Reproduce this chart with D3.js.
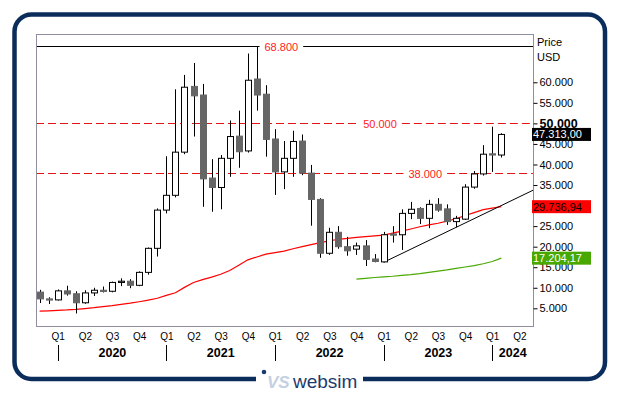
<!DOCTYPE html>
<html>
<head>
<meta charset="utf-8">
<script src="https://cdn.jsdelivr.net/npm/d3@7"></script>
<style>
  body { margin: 0; background: #fff; }
  svg { display: block; font-family: "Liberation Sans", Arial, sans-serif; }
</style>
</head>
<body>
<div class="chart"></div>
<script>
// monthly candles, Nov 2019 .. Feb 2024 (USD)
var firstMonth = new Date(2019, 10, 1);
var open  = [8950, 7300, 7050, 9250, 8550, 6350, 8750, 9400, 9150, 11300, 11600, 10600, 13750, 19600, 28900, 32500, 43000, 59000, 56900, 36700, 34400, 41500, 46900, 43300, 60800, 57100, 46200, 38200, 41500, 45700, 37900, 31500, 18400, 23500, 20000, 19400, 20200, 17000, 16300, 23100, 22900, 28100, 29300, 26900, 30300, 29200, 26100, 26700, 34500, 37700, 42600, 42300];
var high  = [9500, 7700, 9600, 10500, 9150, 9400, 10000, 10300, 11500, 12300, 12100, 14000, 19800, 29300, 42000, 58300, 61800, 64700, 59600, 41300, 42300, 50700, 53100, 67000, 68800, 59300, 48600, 45700, 48200, 47300, 39900, 31800, 24600, 25000, 22400, 21000, 21600, 18200, 23600, 25000, 29100, 30900, 29600, 31400, 31800, 30300, 27500, 35200, 38400, 44700, 49200, 47600];
var low   = [6300, 6050, 6900, 8100, 3750, 6100, 8000, 8850, 8900, 10400, 9900, 10400, 13200, 17600, 28100, 32000, 42500, 46800, 29700, 28500, 29100, 37000, 39200, 42900, 53100, 41900, 32600, 34000, 37000, 37400, 25100, 17300, 18000, 19500, 17800, 18000, 15300, 16200, 16200, 21000, 19200, 26700, 25500, 24500, 28500, 25300, 24700, 26500, 34100, 37300, 38200, 41700];
var close = [7300, 7050, 9250, 8500, 6350, 8750, 9400, 9150, 11300, 11600, 10600, 13750, 19600, 28900, 32500, 43000, 58800, 56700, 36500, 34400, 41500, 46800, 43100, 60500, 56900, 46100, 38200, 41500, 45600, 37900, 31500, 18400, 23500, 20000, 19000, 20200, 16900, 16400, 22900, 22800, 28100, 29100, 26900, 30300, 28900, 26100, 26900, 34500, 37700, 42500, 42300, 47313];

// moving averages
var maRed = [4300, 4400, 4500, 4600, 4750, 4950, 5150, 5400, 5650, 5950, 6250, 6600, 7000, 7450, 8150, 8800, 10100, 11300, 12000, 12600, 13300, 14200, 15500, 16800, 17500, 18200, 18550, 18900, 19500, 20000, 20500, 21000, 21400, 21800, 22000, 22250, 22450, 22650, 22800, 23300, 23800, 24300, 24850, 25300, 25700, 26200, 26800, 27600, 28300, 29000, 29400, 29736.94];
var maGreenStart = 35;
var maGreen = [12100, 12300, 12500, 12650, 12800, 13000, 13200, 13450, 13750, 14050, 14350, 14700, 15050, 15400, 15850, 16400, 17204.17];

// horizontal levels and trend line anchors (month index, price)
var levels = [68800, 50000, 38000];
var trendIdx = [38, 46];
var trendVal = [16200, 24700];

var yTicks = [5000, 10000, 15000, 20000, 25000, 30000, 35000, 40000, 45000, 50000, 55000, 60000];
var years = [2020, 2021, 2022, 2023, 2024];
var quarterNames = ['Q1', 'Q2', 'Q3', 'Q4'];

var W = 620, H = 393;
var plot = { left: 36, right: 533, top: 34, bottom: 326 };
var levelLabelAt = [26.7, 37.6, 42.6];

var de = d3.formatLocale({ decimal: ',', thousands: '.', grouping: [3], currency: ['', ''] });
var fmtTick = de.format(',.0f');
var fmtVal = de.format(',.2f');

var candles = close.map(function (c, i) {
  return { i: i, o: open[i], h: high[i], l: low[i], c: c };
});

var svg = d3.select('.chart')
  .append('svg')
    .attr('width', W)
    .attr('height', H);

var x = d3.scaleLinear()
  .domain([-0.4, 54.5])
  .range([plot.left, plot.right]);

var y = d3.scaleLinear()
  .domain([700, 71750])
  .range([plot.bottom, plot.top]);

// outer rounded border with gap for the logo
var bx0 = 14.5, bx1 = 605, by0 = 14.5, by1 = 379, r = 17;
var p = d3.path();
p.moveTo(256, by1);
p.lineTo(bx0 + r, by1);
p.arcTo(bx0, by1, bx0, by1 - r, r);
p.lineTo(bx0, by0 + r);
p.arcTo(bx0, by0, bx0 + r, by0, r);
p.lineTo(bx1 - r, by0);
p.arcTo(bx1, by0, bx1, by0 + r, r);
p.lineTo(bx1, by1 - r);
p.arcTo(bx1, by1, bx1 - r, by1, r);
p.lineTo(363, by1);
svg.append('path')
  .attr('d', p.toString())
  .attr('fill', 'none')
  .attr('stroke', '#0b2d5c')
  .attr('stroke-width', 4.5);

// logo
svg.append('circle').attr('cx', 264).attr('cy', 372).attr('r', 2.3).attr('fill', '#1b3b6e');
svg.append('text')
  .attr('x', 267).attr('y', 388)
  .attr('font-size', 17).attr('font-weight', 'bold').attr('font-style', 'italic')
  .attr('fill', '#c3d1e2')
  .text('VS');
svg.append('text')
  .attr('x', 293).attr('y', 388)
  .attr('font-size', 19)
  .attr('fill', '#1b3b6e')
  .text('websim');

// plot frame
svg.append('rect')
  .attr('x', plot.left + 0.5).attr('y', plot.top + 0.5)
  .attr('width', plot.right - plot.left).attr('height', plot.bottom - plot.top)
  .attr('fill', 'none')
  .attr('stroke', '#8e8ea0');

svg.append('clipPath').attr('id', 'clip')
  .append('rect')
    .attr('x', plot.left + 1).attr('y', plot.top + 1)
    .attr('width', plot.right - plot.left - 1).attr('height', plot.bottom - plot.top - 1);

var g = svg.append('g').attr('clip-path', 'url(#clip)');

// horizontal levels with labels
levels.forEach(function (v, k) {
  var yy = Math.round(y(v)) + 0.5;
  var solid = k === 0;
  var color = solid ? '#000' : '#e41414';
  var t = svg.append('text')
    .attr('x', x(levelLabelAt[k]))
    .attr('y', yy + 4)
    .attr('text-anchor', 'middle')
    .attr('font-size', 11)
    .attr('fill', '#ff2222')
    .text(fmtTick(v));
  var half = t.node().getComputedTextLength() / 2 + 5;
  var cx = x(levelLabelAt[k]);
  [[plot.left, cx - half], [cx + half, plot.right]].forEach(function (seg) {
    g.append('line')
      .attr('x1', seg[0]).attr('x2', seg[1])
      .attr('y1', yy).attr('y2', yy)
      .attr('stroke', color)
      .attr('stroke-width', 1)
      .attr('stroke-dasharray', solid ? null : '8,4');
  });
});

// red MA
g.append('path')
  .datum(maRed)
  .attr('fill', 'none')
  .attr('stroke', '#ff0000')
  .attr('stroke-width', 1.2)
  .attr('d', d3.line().x(function (d, i) { return x(i); }).y(function (d) { return y(d); }));

// green MA
g.append('path')
  .datum(maGreen)
  .attr('fill', 'none')
  .attr('stroke', '#4aa800')
  .attr('stroke-width', 1.2)
  .attr('d', d3.line().x(function (d, i) { return x(i + maGreenStart); }).y(function (d) { return y(d); }));

// trend line, extended to the right edge
var trend = d3.scaleLinear().domain(trendIdx).range(trendVal);
g.append('line')
  .attr('x1', x(trendIdx[0])).attr('y1', y(trend(trendIdx[0])))
  .attr('x2', x(x.domain()[1])).attr('y2', y(trend(x.domain()[1])))
  .attr('stroke', '#000')
  .attr('stroke-width', 1);

// candles
var cg = g.selectAll('g.candle')
  .data(candles)
  .enter()
  .append('g')
    .attr('class', 'candle');

cg.append('line')
  .attr('x1', function (d) { return Math.round(x(d.i)) + 0.5; })
  .attr('x2', function (d) { return Math.round(x(d.i)) + 0.5; })
  .attr('y1', function (d) { return y(d.h); })
  .attr('y2', function (d) { return y(d.l); })
  .attr('stroke', '#000')
  .attr('stroke-width', 1);

cg.append('rect')
  .attr('x', function (d) { return Math.round(x(d.i)) - 2.5; })
  .attr('width', 6)
  .attr('y', function (d) { return y(Math.max(d.o, d.c)); })
  .attr('height', function (d) { return Math.max(1.2, Math.abs(y(d.o) - y(d.c))); })
  .attr('fill', function (d) { return d.c >= d.o ? '#fff' : '#666'; })
  .attr('stroke', function (d) { return d.c >= d.o ? '#000' : '#666'; })
  .attr('stroke-width', 1);

// x axis: quarters
var quarterIdx = d3.range(2, 54, 3);
var xAxis = d3.axisBottom(x)
  .tickValues(quarterIdx)
  .tickSize(0)
  .tickPadding(0)
  .tickFormat(function (i) {
    var m = d3.timeMonth.offset(firstMonth, i).getMonth();
    return quarterNames[Math.floor(m / 3)];
  });

var xa = svg.append('g')
  .attr('transform', 'translate(0,' + (plot.bottom + 7) + ')')
  .call(xAxis);
xa.select('.domain').remove();
xa.selectAll('text')
  .attr('font-size', 10)
  .attr('font-family', '"Liberation Sans", Arial, sans-serif')
  .attr('fill', '#000');

// years
years.forEach(function (yr, k) {
  var i0 = (yr - 2020) * 12 + 2;
  var x0 = Math.round(x(i0)) + 0.5;
  var x1 = k < years.length - 1 ? x(i0 + 12) : plot.right;
  svg.append('line')
    .attr('x1', x0).attr('x2', x0)
    .attr('y1', 345).attr('y2', 361)
    .attr('stroke', '#000');
  svg.append('text')
    .attr('x', (x0 + x1) / 2)
    .attr('y', 357)
    .attr('text-anchor', 'middle')
    .attr('font-size', 12.5)
    .attr('font-weight', 'bold')
    .text(yr);
});

// y axis on the right
var yAxis = d3.axisRight(y)
  .tickValues(yTicks)
  .tickSize(4)
  .tickPadding(2)
  .tickFormat(fmtTick);

var ya = svg.append('g')
  .attr('transform', 'translate(' + (plot.right + 0.5) + ',0)')
  .call(yAxis);
ya.select('.domain').remove();
ya.selectAll('line').attr('stroke', '#000');
ya.selectAll('text')
  .attr('font-size', 11)
  .attr('font-family', '"Liberation Sans", Arial, sans-serif')
  .attr('fill', '#000')
  .filter(function (d) { return d === 50000; })
    .attr('font-size', 12.5)
    .attr('font-weight', 'bold');

svg.append('text').attr('x', 537).attr('y', 45.5).attr('font-size', 11).text('Price');
svg.append('text').attr('x', 537).attr('y', 60.5).attr('font-size', 11).text('USD');

// last value boxes
var tags = [
  { v: close[close.length - 1], bg: '#000', fg: '#fff' },
  { v: maRed[maRed.length - 1], bg: '#ff0000', fg: '#000' },
  { v: maGreen[maGreen.length - 1], bg: '#48a800', fg: '#fff' }
];
var tg = svg.selectAll('g.tag')
  .data(tags)
  .enter()
  .append('g')
    .attr('class', 'tag')
    .attr('transform', function (d) { return 'translate(' + (plot.right - 1) + ',' + y(d.v) + ')'; });
tg.append('rect')
  .attr('x', 0).attr('y', -6.5)
  .attr('width', 59).attr('height', 13)
  .attr('fill', function (d) { return d.bg; });
tg.append('text')
  .attr('x', 1).attr('y', 4)
  .attr('font-size', 11)
  .attr('fill', function (d) { return d.fg; })
  .text(function (d) { return fmtVal(d.v); });
</script>
</body>
</html>
